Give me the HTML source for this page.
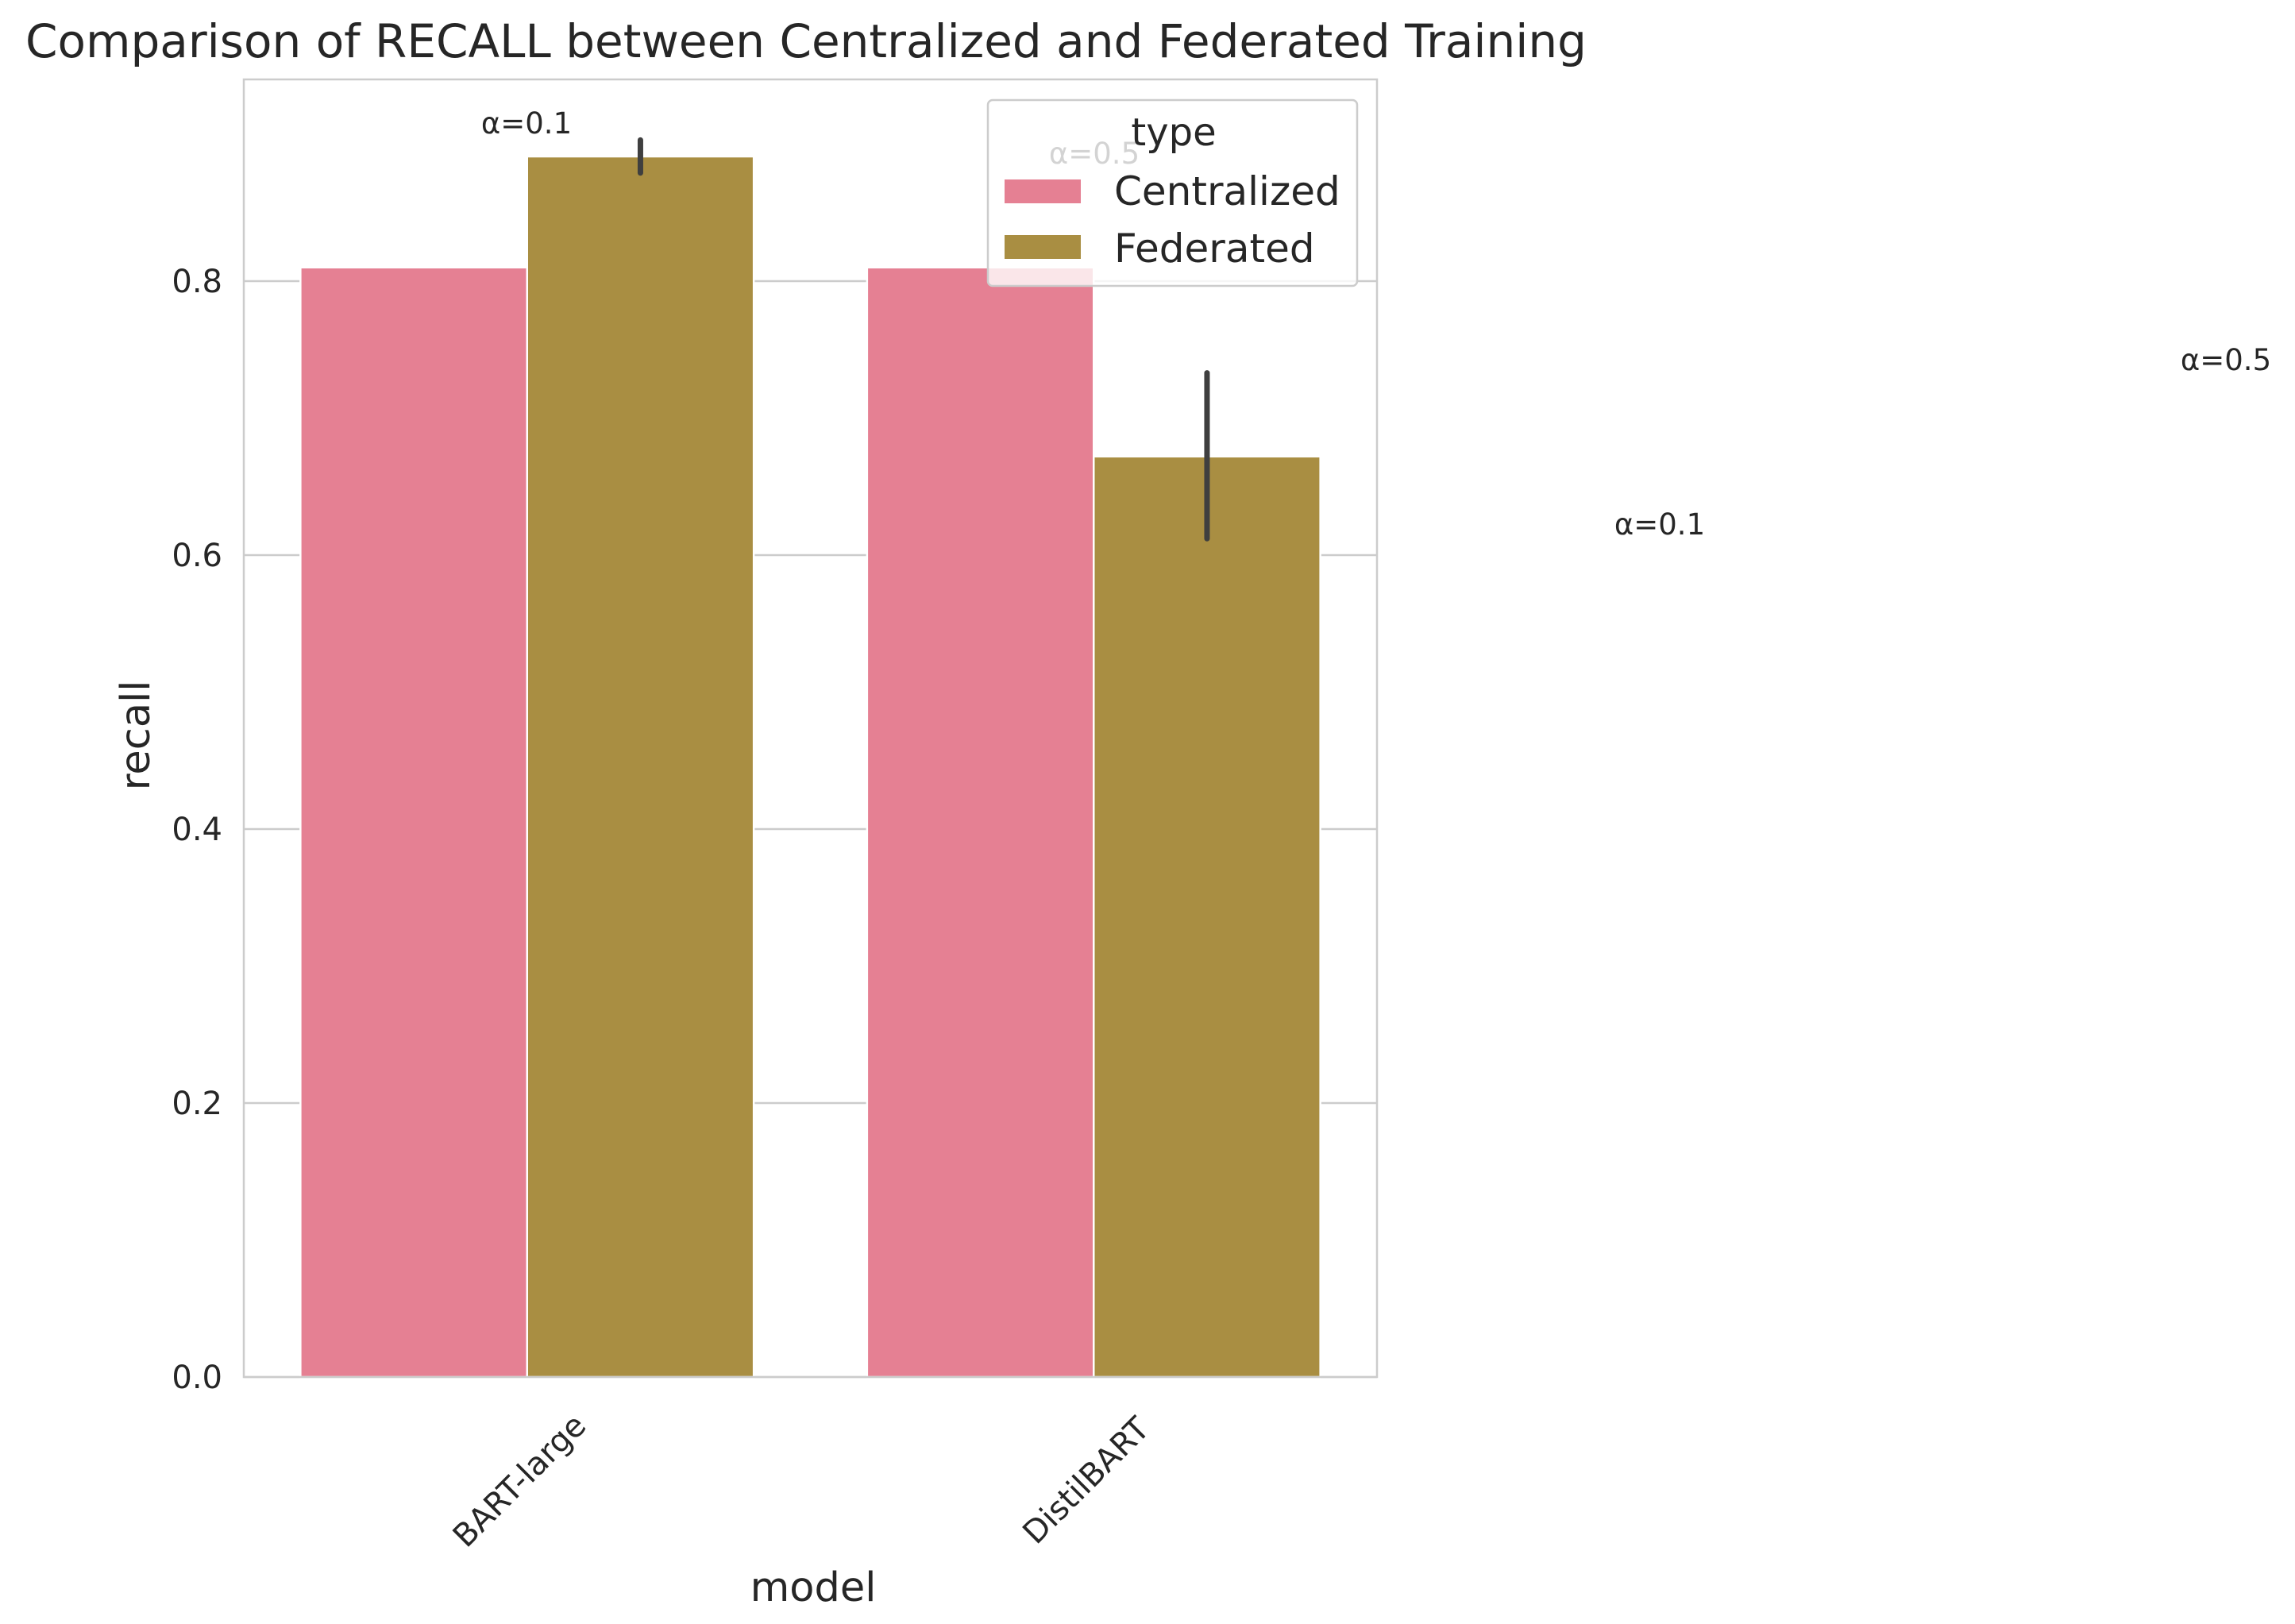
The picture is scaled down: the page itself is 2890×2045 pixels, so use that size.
<!DOCTYPE html>
<html><head><meta charset="utf-8"><style>body{margin:0;background:#fff}svg{display:block;font-family:"DejaVu Sans","Liberation Sans",sans-serif}</style></head>
<body>
<svg id="chart" width="2890" height="2045" viewBox="0 0 2890 2045">
<text x="32" y="72" font-size="58" fill="#262626">Comparison of RECALL between Centralized and Federated Training</text>
<g id="grid"></g>
<g id="bars"></g>
<rect x="307" y="100" width="1427" height="1634" fill="none" stroke="#cccccc" stroke-width="2.5"/>
<g id="labels"></g>
<text x="1024" y="2016" font-size="51" fill="#262626" text-anchor="middle">model</text>
<text transform="translate(188,926) rotate(-90)" font-size="51" fill="#262626" text-anchor="middle">recall</text>
<text x="663" y="168" font-size="37" fill="#262626" text-anchor="middle">α=0.1</text>
<text x="1378" y="206" font-size="37" fill="#262626" text-anchor="middle">α=0.5</text>
<text x="2803" y="466" font-size="37" fill="#262626" text-anchor="middle">α=0.5</text>
<text x="2090" y="673" font-size="37" fill="#262626" text-anchor="middle">α=0.1</text>
<g>
<rect x="1244" y="126" width="465" height="234" rx="6" fill="#fff" fill-opacity="0.8" stroke="#cccccc" stroke-width="2.5"/>
<text x="1478" y="183" font-size="48" fill="#262626" text-anchor="middle">type</text>
<rect x="1265" y="226" width="96" height="30" fill="#e58093"/>
<text x="1403" y="258" font-size="50" fill="#262626">Centralized</text>
<rect x="1265" y="296" width="96" height="30" fill="#a98e42"/>
<text x="1403" y="330" font-size="50" fill="#262626">Federated</text>
</g>
</svg>
<script>
const categories=["BART-large","DistilBART"];
const centralized=[0.810,0.810];
const federated=[0.891,0.672];
const fedErrLow=[0.879,0.612];
const fedErrHigh=[0.903,0.733];
const yTicks=[0,0.2,0.4,0.6,0.8];
const yTickLabels=["0.0","0.2","0.4","0.6","0.8"];
const NS="http://www.w3.org/2000/svg";
const L=307,R=1734,Y0=1734,PER=1725;
const y=v=>Y0-v*PER;
const band=(R-L)/categories.length;
const xc=i=>L+band*(i+0.5);
const bw=band*0.8/2;
function mk(tag,attrs,parent){const e=document.createElementNS(NS,tag);for(const k in attrs)e.setAttribute(k,attrs[k]);parent.appendChild(e);return e;}
const grid=document.getElementById('grid'),bars=document.getElementById('bars'),labels=document.getElementById('labels');
yTicks.forEach((t,i)=>{
 const g=mk('line',{x1:L,x2:R,y1:y(t),y2:y(t),stroke:'#cccccc','stroke-width':2.5},grid);
 
 
 const tx=mk('text',{x:280,y:y(t)+14,'font-size':40,fill:'#262626','text-anchor':'end'},labels);
 tx.textContent=yTickLabels[i];
 
 
});
categories.forEach((c,i)=>{
 const b1=mk('rect',{x:xc(i)-bw,y:y(centralized[i]),width:bw,height:Y0-y(centralized[i]),fill:'#e58093',stroke:'#fff','stroke-width':2.5},bars);
 
 
 const b2=mk('rect',{x:xc(i),y:y(federated[i]),width:bw,height:Y0-y(federated[i]),fill:'#a98e42',stroke:'#fff','stroke-width':2.5},bars);
 
 
 const e=mk('line',{x1:xc(i)+bw/2,x2:xc(i)+bw/2,y1:y(fedErrLow[i]),y2:y(fedErrHigh[i]),stroke:'#3f3f3f','stroke-width':7,'stroke-linecap':'round'},bars);
 
 
 const tx=mk('text',{transform:`translate(${xc(i)},${1874}) rotate(-45)`,'font-size':40,fill:'#262626','text-anchor':'middle'},labels);
 tx.textContent=c;
 
 
});
</script>
</body></html>
